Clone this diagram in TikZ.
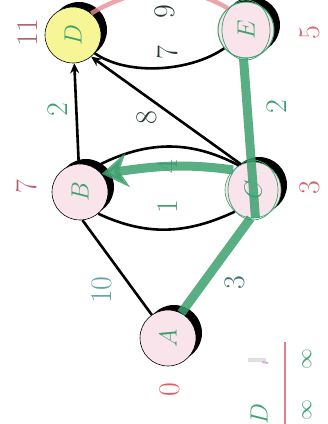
\documentclass[tikz,border=0pt]{standalone}
\usepackage{graphicx}
\usetikzlibrary{arrows.meta}
\definecolor{gr}{RGB}{60,160,110}
\definecolor{tl}{RGB}{95,165,165}
\definecolor{rd}{RGB}{220,95,105}
\definecolor{mrd}{RGB}{175,100,110}
\definecolor{pk}{RGB}{250,228,236}
\definecolor{yl}{RGB}{246,246,150}
\definecolor{dk}{RGB}{40,60,50}
\begin{document}
\begin{tikzpicture}[x=1pt,y=1pt,
  vertex/.style={circle,draw=black,line width=0.6pt,minimum size=56pt,inner sep=0pt,fill=pk,
    font=\fontsize{36}{36}\selectfont,text=gr},
  shadowdisk/.style={fill=black},
  elabel/.style={font=\fontsize{30}{30}\selectfont,rotate=90,inner sep=0pt},
  dlabel/.style={font=\fontsize{30}{30}\selectfont,rotate=90,inner sep=0pt,text=rd},
  edge/.style={line width=2.6pt,black},
  hl/.style={line width=9pt,gr,opacity=0.85},
  scrib/.style={gr,line width=0.7pt}
]
\useasboundingbox (0,0) rectangle (328,424);
% shadows
\foreach \p in {(73,389),(246,394),(80,232),(253,234),(168,86)}
  \fill[shadowdisk] \p ++(6,5) circle (28);
% vertices
\node[vertex,fill=yl] (D) at (73,389) {\rotatebox{90}{$D$}};
\node[vertex,draw=gr,line width=1pt] (E) at (246,394) {\rotatebox{90}{$E$}};
\node[vertex] (B) at (80,232) {\rotatebox{90}{$B$}};
\node[vertex,draw=gr] (C) at (253,234) {\rotatebox{90}{$C$}};
\node[vertex] (A) at (168,86) {\rotatebox{90}{$A$}};
% scribbles on E and C
\draw[scrib] (E) ellipse (24 and 30);
\draw[scrib] (C) ellipse (25 and 30);
% black edges
\draw[edge,-{Stealth[length=10pt,width=9pt]}] (B) -- (D);
\draw[edge,-{Stealth[length=10pt,width=9pt]}] (C.115) -- (D.-50);
\draw[edge] (A.125) -- (B.-85);
\draw[edge] (D.-40) to[out=-35,in=-145,looseness=0.8] (E.-140);
\draw[rd!70,line width=4.5pt,opacity=0.8] (D.50) to[out=30,in=150] (E.130);
\draw[edge] (B.60) to[out=28,in=152] (C.120);
\draw[edge] (B.-50) to[out=-25,in=-155] (C.-130);
% highlighted edges
\draw[hl,-{Stealth[length=26pt,width=34pt]}] (C.135) to[out=172,in=8] (B.40);
\draw[hl] (C.-85) -- (E.-95);
\draw[hl] (A.62) -- (C.-95);
% edge labels
\node[elabel,text=dk] (l9) at (165,412) {9};
\node[elabel,text=dk] (l7) at (168,371) {7};
\node[elabel,text=gr] (lBD) at (58,314) {2};
\node[elabel,text=dk] (l8) at (147,306) {8};
\node[elabel,text=gr] (lCE) at (277,317) {2};
\node[elabel,text=gr] (l4) at (167,257) {4};
\node[elabel,text=gr] (l1) at (168,217) {1};
\node[elabel,text=tl] (l10) at (102,134) {10};
\node[elabel,text=tl!70!black] (l3) at (235,141) {3};
% distance labels
\node[dlabel,text=mrd] (dD) at (28,391) {11};
\node[dlabel] (dE) at (310,391) {5};
\node[dlabel,text=mrd] (dB) at (27,237) {7};
\node[dlabel] (dC) at (310,236) {3};
\node[dlabel] (dA) at (170,34) {0};
% bottom table
\node[font=\fontsize{34}{34}\selectfont,rotate=90,text=gr,inner sep=0pt] (tD) at (259,10) {$D$};
\draw[rd!80,line width=2pt] (285,82) -- (285,0);
\node[font=\fontsize{20}{20}\selectfont,rotate=90,text=gr,inner sep=0pt] (i1) at (307,65) {$\infty$};
\node[font=\fontsize{20}{20}\selectfont,rotate=90,text=gr,inner sep=0pt] (i2) at (307,14) {$\infty$};
\draw[gray!25,line width=4pt] (248,64) -- (266,64);
\draw[violet!30,line width=2pt] (262,62) -- (268,61);
\end{tikzpicture}
\end{document}
